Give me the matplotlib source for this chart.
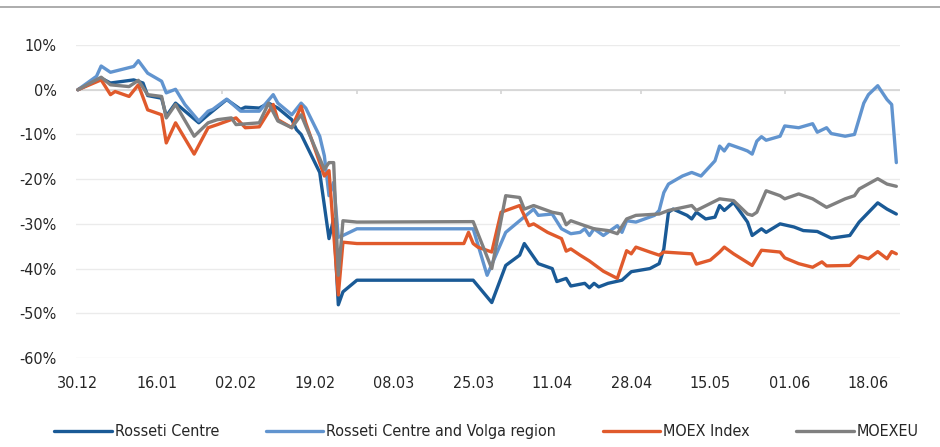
import numpy as np
import matplotlib
matplotlib.use("Agg")
import matplotlib.pyplot as plt
from matplotlib.lines import Line2D
from matplotlib.ticker import FuncFormatter

plt.rcParams['font.family'] = ['DejaVu Sans']
plt.rcParams['font.stretch'] = 'condensed'

# x = days since 30.12, values in %
rc_days = [0, 5, 7, 12, 14, 15, 18, 19, 21, 26, 28, 32, 35, 36, 39, 41, 43, 46, 47, 48,
           52, 53, 54, 55, 56, 57, 60, 85, 89, 92, 95, 96, 99, 102, 103, 105, 106, 109, 110, 111,
           112, 114, 117, 119, 123, 125, 126, 127, 128, 131, 132, 133, 135, 137, 138, 139, 141, 144, 145, 147,
           148, 151, 154, 156, 159, 162, 166, 168, 172, 174, 176]
rc_vals = [0, 2.6, 1.5, 2.2, 1.5, -1.3, -1.9, -5.9, -3.0, -7.4, -5.6, -2.2, -4.4, -3.9, -4.1, -3.0, -4.1, -6.7, -8.9, -10.0,
           -18.5, -25.9, -33.3, -28.9, -48.1, -45.2, -42.6, -42.6, -47.6, -39.3, -37.0, -34.4, -38.9, -40.0, -42.9, -42.2, -43.9, -43.3, -44.3, -43.3,
           -44.1, -43.3, -42.6, -40.7, -40.0, -38.9, -35.6, -27.4, -26.7, -28.1, -28.9, -27.4, -28.9, -28.5, -25.9, -27.0, -25.2, -29.6, -32.6, -31.1,
           -31.9, -30.0, -30.7, -31.5, -31.7, -33.2, -32.6, -29.6, -25.3, -26.7, -27.8]

lb_days = [0, 4, 5, 7, 12, 13, 15, 18, 19, 21, 23, 26, 28, 29, 32, 35, 39, 42, 43, 46,
           48, 49, 52, 53, 54, 55, 56, 57, 60, 85, 88, 92, 95, 98, 99, 102, 104, 106, 108, 109,
           110, 111, 113, 116, 117, 118, 120, 124, 125, 126, 127, 130, 132, 134, 137, 138, 139, 140, 143, 144,
           145, 146, 147, 148, 151, 152, 155, 158, 159, 161, 162, 165, 167, 169, 170, 172, 174, 175, 176]
lb_vals = [0, 3.0, 5.3, 3.9, 5.2, 6.5, 3.7, 1.9, -0.7, 0.1, -3.3, -7.0, -4.8, -4.4, -2.1, -4.8, -4.8, -1.1, -3.0, -5.6,
           -3.0, -4.1, -10.4, -14.8, -23.7, -20.7, -33.0, -32.6, -31.1, -31.1, -41.5, -31.9, -29.3, -26.7, -28.1, -27.8, -31.1, -32.2, -31.9, -31.1,
           -32.6, -31.1, -32.6, -30.4, -31.9, -29.3, -29.6, -28.1, -27.0, -23.0, -21.1, -19.3, -18.5, -19.3, -15.9, -12.6, -13.7, -12.2, -13.3, -13.7,
           -14.4, -11.5, -10.5, -11.3, -10.4, -8.1, -8.5, -7.6, -9.5, -8.5, -9.8, -10.4, -10.0, -3.0, -1.1, 0.9, -2.2, -3.3, -16.3]

mx_days = [0, 5, 7, 8, 11, 13, 15, 18, 19, 21, 25, 28, 30, 34, 36, 39, 42, 43, 46, 48,
           49, 53, 54, 56, 57, 60, 83, 84, 85, 86, 89, 91, 95, 97, 98, 101, 104, 105, 106, 108,
           110, 113, 116, 118, 119, 120, 123, 125, 126, 132, 133, 136, 138, 139, 141, 145, 147, 151, 152, 155,
           158, 160, 161, 166, 168, 170, 172, 174, 175, 176]
mx_vals = [0, 2.2, -1.1, -0.4, -1.5, 1.1, -4.5, -5.6, -11.9, -7.4, -14.4, -8.5, -7.8, -6.3, -8.5, -8.3, -3.3, -6.7, -8.5, -3.7,
           -7.4, -19.3, -18.1, -45.9, -34.1, -34.4, -34.4, -31.9, -34.4, -35.2, -36.3, -27.4, -25.9, -30.4, -30.0, -31.9, -33.3, -36.1, -35.6, -37.0,
           -38.3, -40.6, -42.2, -36.0, -36.7, -35.2, -36.3, -37.0, -36.3, -36.7, -39.0, -38.1, -36.3, -35.2, -36.7, -39.3, -35.9, -36.3, -37.6, -38.9,
           -39.7, -38.5, -39.4, -39.3, -37.2, -37.8, -36.2, -37.8, -36.2, -36.7]

eu_days = [0, 5, 7, 11, 13, 15, 18, 19, 21, 25, 28, 30, 33, 34, 39, 41, 43, 46, 48, 49,
           53, 54, 55, 56, 57, 60, 85, 89, 92, 95, 96, 98, 102, 104, 105, 106, 109, 111, 114, 116,
           118, 120, 125, 127, 132, 133, 138, 141, 144, 145, 146, 148, 151, 152, 155, 158, 161, 165, 167, 168,
           172, 174, 176]
eu_vals = [0, 2.8, 1.1, 0.7, 2.1, -1.1, -1.5, -6.3, -3.3, -10.4, -7.4, -6.7, -6.3, -7.8, -7.4, -3.0, -7.0, -8.5, -5.6, -8.1,
           -17.8, -16.3, -16.3, -41.5, -29.3, -29.6, -29.5, -40.0, -23.7, -24.1, -26.7, -25.9, -27.4, -27.8, -30.2, -29.3, -30.4, -31.1, -31.5, -32.2,
           -28.9, -28.1, -27.8, -27.0, -25.9, -27.0, -24.4, -24.8, -27.8, -28.1, -27.4, -22.6, -23.7, -24.4, -23.3, -24.4, -26.3, -24.4, -23.7, -22.2,
           -19.9, -21.1, -21.6]

tick_labels = ['30.12', '16.01', '02.02', '19.02', '08.03', '25.03',
               '11.04', '28.04', '15.05', '01.06', '18.06']
names = ['Rosseti Centre', 'Rosseti Centre and Volga region', 'MOEX Index', 'MOEXEU']
colors = ['#1a5a96', '#6194cf', '#e05a2c', '#808080']

fig = plt.figure(figsize=(9.4, 4.47), dpi=100)
ax = fig.add_axes([0.0809, 0.1991, 0.8766, 0.7002])

series = [(rc_days, rc_vals), (lb_days, lb_vals), (mx_days, mx_vals), (eu_days, eu_vals)]
for (d, v), name, c in zip(series, names, colors):
    ax.plot(d, np.array(v) / 100, color=c, lw=2.4, label=name, zorder=3,
            solid_joinstyle='round', solid_capstyle='round')

ax.set_ylim(-0.6, 0.1)
ax.set_xlim(-0.4, 176.8)
ax.set_yticks(np.arange(-0.6, 0.11, 0.1))
ax.yaxis.set_major_formatter(FuncFormatter(lambda y, p: f"{int(round(y * 100))}%"))
ax.set_xticks(np.arange(len(tick_labels)) * 17)
ax.set_xticklabels(tick_labels)
ax.tick_params(axis='both', length=0, labelsize=11.5, colors='#262626')
ax.tick_params(axis='x', pad=13)
ax.tick_params(axis='y', pad=14)
ax.grid(axis='y', color='#ebebeb', lw=1)
ax.set_axisbelow(True)
for s in ax.spines.values():
    s.set_visible(False)

# zero line with small tick marks below it
ax.axhline(0, color='#d4d4d4', lw=1.2, zorder=2)
ax.vlines([31, 60, 91, 121, 152], -0.009, 0, color='#d4d4d4', lw=1.2, zorder=2)

fig.legend(loc='center', bbox_to_anchor=(0.5176, 0.034), ncol=4, frameon=False,
           fontsize=11.5, handlelength=3.6, handletextpad=0.2, columnspacing=2.9,
           labelcolor='#262626')

fig.add_artist(Line2D([0, 1], [0.985, 0.985], color='#a6a6a6', lw=1.3))

fig.savefig('out.png', dpi=100)
